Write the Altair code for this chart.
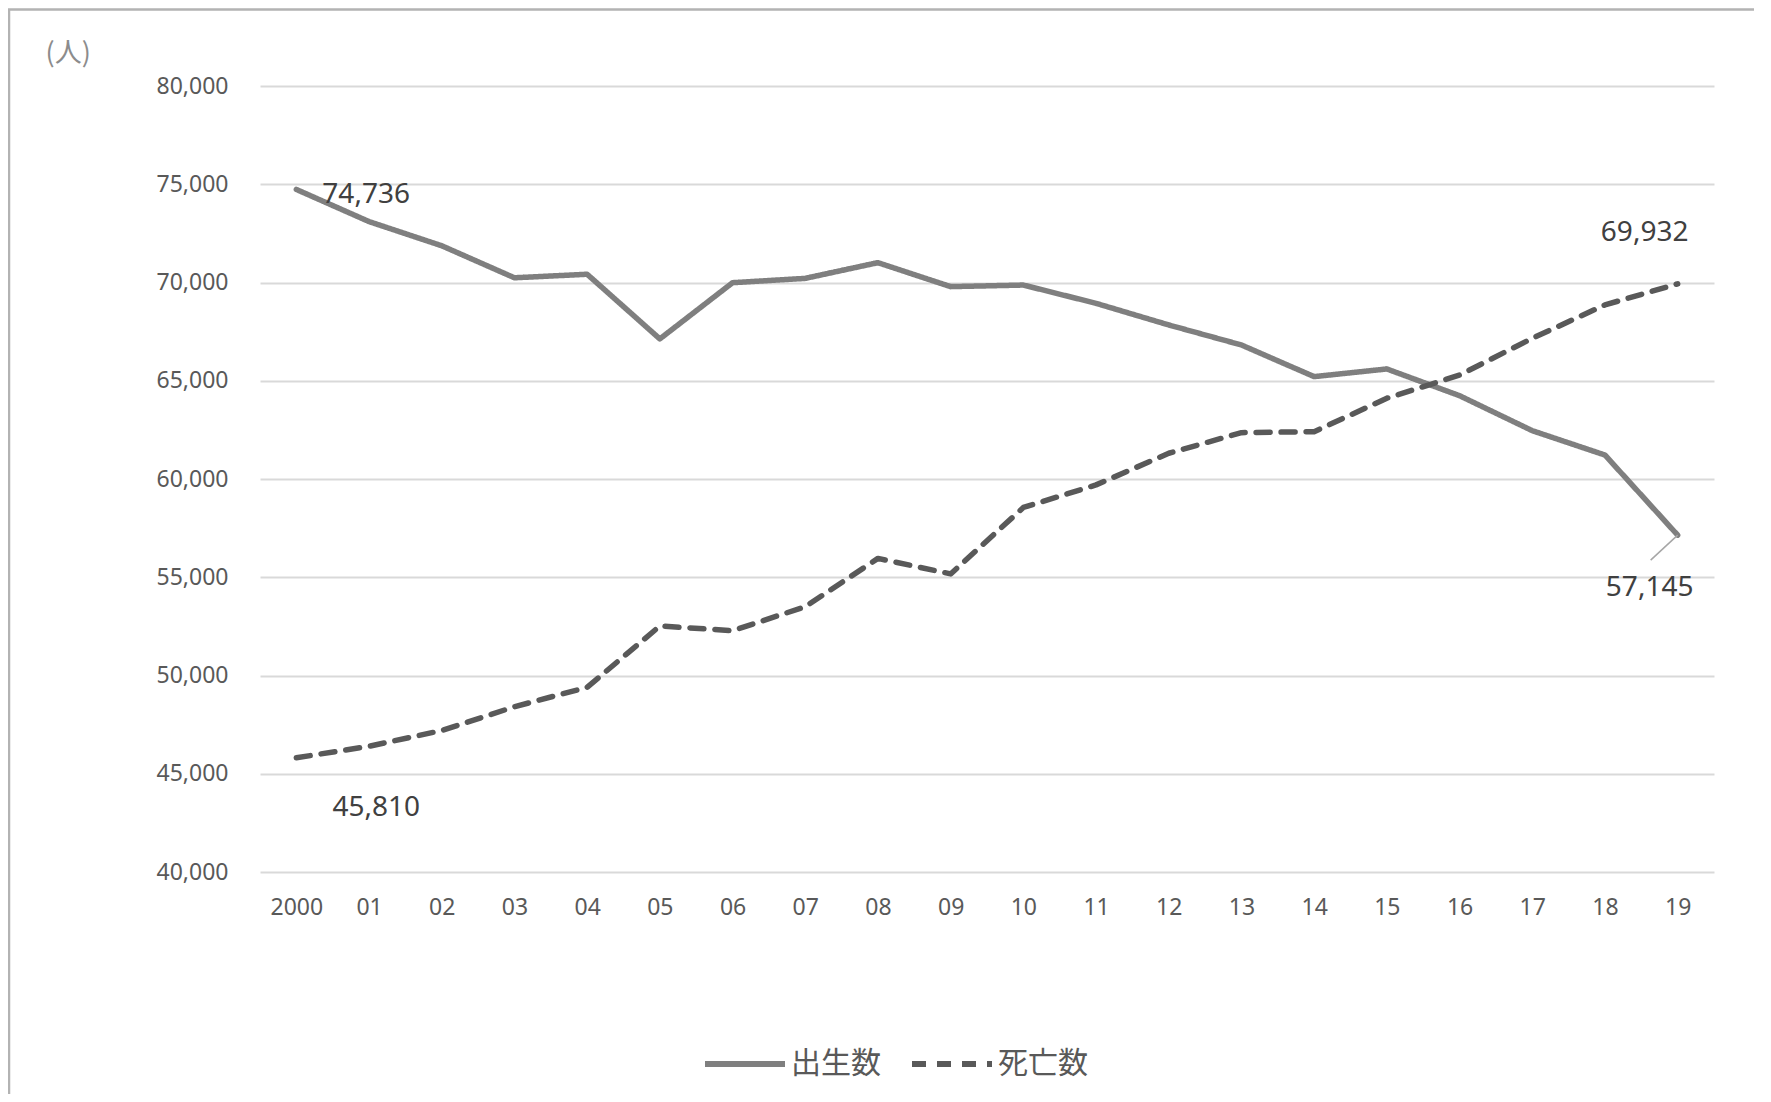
import altair as alt
import pandas as pd

years = ["2000", "01", "02", "03", "04", "05", "06", "07", "08", "09",
         "10", "11", "12", "13", "14", "15", "16", "17", "18", "19"]
births = [74736, 73100, 71870, 70240, 70420, 67130, 69990, 70210, 71010, 69790,
          69870, 68940, 67840, 66820, 65210, 65600, 64240, 62460, 61220, 57145]
deaths = [45810, 46400, 47200, 48410, 49400, 52520, 52280, 53500, 55960, 55170,
          58550, 59700, 61310, 62360, 62410, 64110, 65290, 67160, 68860, 69932]
series_names = ["出生数", "死亡数"]
y_ticks = [40000, 45000, 50000, 55000, 60000, 65000, 70000, 75000, 80000]

rows = []
for yr, v in zip(years, births):
    rows.append({"year": yr, "series": series_names[0], "value": v})
for yr, v in zip(years, deaths):
    rows.append({"year": yr, "series": series_names[1], "value": v})
df = pd.DataFrame(rows)

NUM_FONT = "Noto Sans"
JP_FONT = "Noto Sans CJK JP"

x_enc = alt.X(
    "year:O", sort=years,
    scale=alt.Scale(type="point", padding=0.5),
    axis=alt.Axis(title=None, labelAngle=0, labelFont=NUM_FONT, labelFontSize=23,
                  labelColor="#595959", labelPadding=24, domain=False, ticks=False,
                  grid=False),
)
y_enc = alt.Y(
    "value:Q",
    scale=alt.Scale(domain=[40000, 80000], nice=False, zero=False),
    axis=alt.Axis(values=y_ticks, format=",.0f", title="(人)", titleAngle=0,
                  titleX=-215, titleY=-33, titleAlign="left", titleBaseline="middle",
                  titleFont=JP_FONT, titleFontSize=27, titleFontWeight="normal",
                  titleColor="#8c8c8c", labelFont=NUM_FONT, labelFontSize=23,
                  labelColor="#595959", labelPadding=32, domain=False, ticks=False,
                  grid=True, gridColor="#d9d9d9", gridWidth=2),
)

leg = alt.Legend(title=None, orient="none", legendX=442, legendY=935,
                 direction="horizontal", symbolType="stroke", symbolSize=6400,
                 symbolStrokeWidth=6, labelFont=JP_FONT, labelFontSize=30,
                 labelColor="#595959", labelOffset=3, columnPadding=19)

lines = alt.Chart(df).mark_line(strokeWidth=5.5, strokeCap="round", strokeJoin="round").encode(
    x=x_enc,
    y=y_enc,
    color=alt.Color("series:N", scale=alt.Scale(domain=series_names, range=["#7f7f7f", "#595959"]), legend=leg),
    strokeDash=alt.StrokeDash("series:N", scale=alt.Scale(domain=series_names, range=[[1, 0], [14, 11]]), legend=leg),
    order=alt.Order("series:N"),
)

def label(series, year, **kw):
    return alt.Chart(df).transform_filter(
        (alt.datum.series == series) & (alt.datum.year == year)
    ).mark_text(font=NUM_FONT, fontSize=28, color="#404040", baseline="middle", **kw).encode(
        x=alt.X("year:O", sort=years),
        y=alt.Y("value:Q"),
        text=alt.Text("value:Q", format=","),
    )

lab1 = label(series_names[0], "2000", align="left", dx=26, dy=6)
lab2 = label(series_names[1], "2000", align="center", dx=80, dy=50)
lab3 = label(series_names[1], "19", align="center", dx=-33, dy=-51)
lab4 = label(series_names[0], "19", align="center", dx=-28, dy=53)

leader = alt.Chart(df).transform_filter(
    (alt.datum.series == series_names[0]) & (alt.datum.year == "19")
).mark_rule(color="#a6a6a6", strokeWidth=1.5, x2Offset=-27, y2Offset=25).encode(
    x=alt.X("year:O", sort=years),
    y=alt.Y("value:Q"),
    x2=alt.X2("year"),
    y2=alt.Y2("value"),
)

border = alt.Chart(pd.DataFrame({"a": [0]})).mark_rect(
    filled=False, stroke="#b3b3b3", strokeWidth=2.5
).encode(x=alt.value(-251), x2=alt.value(1700), y=alt.value(-76.5), y2=alt.value(1300))

chart = alt.layer(border, lines, leader, lab1, lab2, lab3, lab4).properties(
    width=1454, height=786,
    autosize=alt.AutoSizeParams(type="none"),
    padding={"left": 252, "top": 78, "right": 40, "bottom": 222},
).configure_view(stroke=None)

chart.save("out.html", embed_options={"renderer": "svg", "actions": False})
